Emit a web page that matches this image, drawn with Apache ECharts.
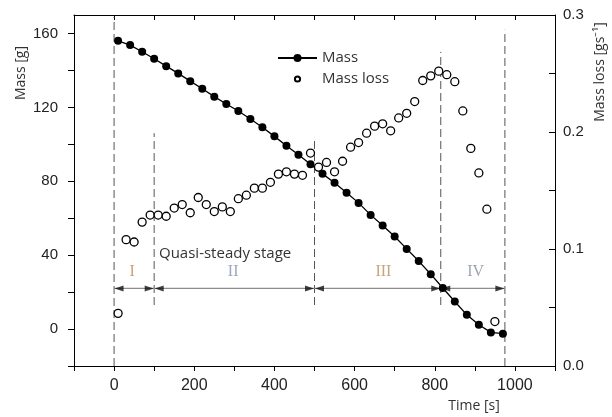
<!DOCTYPE html>
<html><head><meta charset="utf-8">
<script src="https://cdn.jsdelivr.net/npm/echarts@6/dist/echarts.min.js"></script>
<style>html,body{margin:0;padding:0;background:#fff}#c{width:612px;height:417px}</style>
</head><body><div id="c"></div>
<script>
// ---- data ----
const massTime = [10,40,70,100,130,160,190,220,250,280,310,340,370,400,430,460,490,520,550,580,610,640,670,700,730,760,790,820,850,880,910,940,970];
const massValues = [156.0,153.7,150.1,146.3,142.3,138.4,134.2,130.1,125.8,121.8,118.0,113.7,109.2,104.3,99.2,94.4,89.2,84.0,79.2,73.8,68.3,61.8,56.0,50.1,43.4,36.8,29.7,22.2,14.9,7.7,2.3,-1.8,-2.5];
const lossTime = [10,30,50,70,90,110,130,150,170,190,210,230,250,270,290,310,330,350,370,390,410,430,450,470,490,510,530,550,570,590,610,630,650,670,690,710,730,750,770,790,810,830,850,870,890,910,930,950];
const lossValues = [0.045,0.108,0.106,0.123,0.129,0.129,0.128,0.135,0.138,0.131,0.144,0.138,0.132,0.136,0.132,0.143,0.146,0.152,0.152,0.157,0.164,0.166,0.164,0.163,0.182,0.170,0.174,0.166,0.175,0.187,0.191,0.199,0.205,0.207,0.201,0.212,0.216,0.226,0.244,0.248,0.252,0.249,0.243,0.218,0.186,0.165,0.134,0.038];
const stageBounds = [0,100,500,815,975];
const dashTop = [169,106,104,150,162];
const dashBottom = [-20,13,13,13,-20];
const arrowLevel = 22;
const stageNames = ['I','II','III','IV'];
const stageLabelTime = [45,297,672,902];
const stageLabelLevel = 31;
const stageColors = ['#c08850','#7f93ae','#b98e5c','#858da0'];
const xTickLabels = [0,200,400,600,800,1000];
const yLeftTickLabels = [0,40,80,120,160];
const yRightTickLabels = [0,0.1,0.2,0.3];

function range(a,b,s){const r=[];for(let v=a;v<=b+1e-9;v+=s)r.push(+v.toFixed(4));return r;}

const chart = echarts.init(document.getElementById('c'), null, {renderer:'canvas'});
const axisFont = 'Liberation Sans';
const series = [];
stageBounds.forEach((b,i)=>{
  series.push({type:'line', silent:true, data:[[b,dashBottom[i]],[b,dashTop[i]]], symbol:'none',
    lineStyle:{color:'#555', width:1, type:[8,4]}, z:1, animation:false});
});
for(let i=0;i<stageBounds.length-1;i++){
  series.push({type:'line', silent:true, data:[[stageBounds[i],arrowLevel],[stageBounds[i+1],arrowLevel]], symbol:'none',
    lineStyle:{color:'#8c8c8c', width:1.3}, z:2, animation:false});
}
series.push({type:'scatter', silent:true, symbol:'path://M0,5L10,0L10,10Z', symbolSize:[9,6], symbolOffset:[5,0],
  itemStyle:{color:'#111'}, data: stageBounds.slice(0,-1).map(b=>[b,arrowLevel]), z:3, animation:false});
series.push({type:'scatter', silent:true, symbol:'path://M10,5L0,0L0,10Z', symbolSize:[9,6], symbolOffset:[-5,0],
  itemStyle:{color:'#111'}, data: stageBounds.slice(1).map(b=>[b,arrowLevel]), z:3, animation:false});
series.push({type:'scatter', silent:true, symbolSize:0, z:3, animation:false,
  data: stageNames.map((n,i)=>({value:[stageLabelTime[i],stageLabelLevel], name:n,
    label:{show:true, position:'inside', formatter:n, color:stageColors[i], fontFamily:'Liberation Serif', fontSize:16}}))});
series.push({name:'Mass', type:'line', data: massTime.map((t,i)=>[t,massValues[i]]), symbol:'circle', symbolSize:8,
  itemStyle:{color:'#000'}, lineStyle:{color:'#000', width:1.3}, z:5, animation:false});
series.push({name:'Mass loss', type:'scatter', yAxisIndex:1, data: lossTime.map((t,i)=>[t,lossValues[i]]), symbol:'circle', symbolSize:8,
  itemStyle:{color:'#fff', borderColor:'#000', borderWidth:1.3, opacity:1}, z:6, animation:false});

const baseAxisLine = {show:true, onZero:false, lineStyle:{color:'#000', width:1}};
chart.setOption({
  animation:false,
  grid:{left:74, right:57, top:15, bottom:51, containLabel:false},
  legend:{data:[{name:'Mass'},{name:'Mass loss', icon:'path://M0,0M10,10M7.6,5A2.6,2.6,0,1,1,2.4,5A2.6,2.6,0,1,1,7.6,5Z'}],
    orient:'vertical', left:272, top:45, itemWidth:39, itemHeight:10, itemGap:5,
    textStyle:{fontFamily:'Open Sans', fontSize:15, color:'#333', lineHeight:16}},
  xAxis:[
    {type:'value', min:-100, max:1100, position:'bottom', axisLine:baseAxisLine,
      axisTick:{show:true, inside:false, length:5, customValues:range(-100,1100,100), lineStyle:{color:'#000'}},
      axisLabel:{customValues:xTickLabels, margin:12, fontFamily:axisFont, fontSize:16, color:'#222', formatter:v=>String(v)},
      splitLine:{show:false}},
    {type:'value', min:-100, max:1100, position:'top', axisLine:baseAxisLine,
      axisTick:{show:true, inside:true, length:5, customValues:range(-100,1100,100), lineStyle:{color:'#000'}},
      axisLabel:{show:false}, splitLine:{show:false}}
  ],
  yAxis:[
    {type:'value', min:-20, max:170, position:'left', axisLine:baseAxisLine,
      axisTick:{show:true, inside:false, length:6, customValues:range(-20,160,20), lineStyle:{color:'#000'}},
      axisLabel:{customValues:yLeftTickLabels, margin:16, fontFamily:axisFont, fontSize:15, color:'#222', formatter:v=>String(v)},
      splitLine:{show:false}},
    {type:'value', min:0, max:0.3, position:'right', axisLine:baseAxisLine,
      axisTick:{show:true, inside:true, length:6, customValues:range(0,0.3,0.05), lineStyle:{color:'#000'}},
      axisLabel:{customValues:yRightTickLabels, margin:8, fontFamily:axisFont, fontSize:15, color:'#222',
        formatter:v=>Number(v).toFixed(1)},
      splitLine:{show:false}}
  ],
  graphic:[
    {type:'text', x:21, y:73, rotation:Math.PI/2, style:{text:'Mass [g]', font:'14px "Open Sans"', fill:'#333', align:'center', verticalAlign:'middle', textAlign:'center', textVerticalAlign:'middle'}},
    {type:'text', x:600, y:72, rotation:Math.PI/2, style:{text:'Mass loss [gs\u207B\u00B9]', font:'14px "Open Sans"', fill:'#333', align:'center', verticalAlign:'middle', textAlign:'center', textVerticalAlign:'middle'}},
    {type:'text', x:474, y:406, style:{text:'Time [s]', font:'14px "Open Sans"', fill:'#333', align:'center', verticalAlign:'middle', textAlign:'center', textVerticalAlign:'middle'}},
    {type:'text', x:159, y:254, style:{text:'Quasi-steady stage', font:'15px "Open Sans"', fill:'#333', align:'left', verticalAlign:'middle', textAlign:'left', textVerticalAlign:'middle'}}
  ],
  series: series
});
</script></body></html>
